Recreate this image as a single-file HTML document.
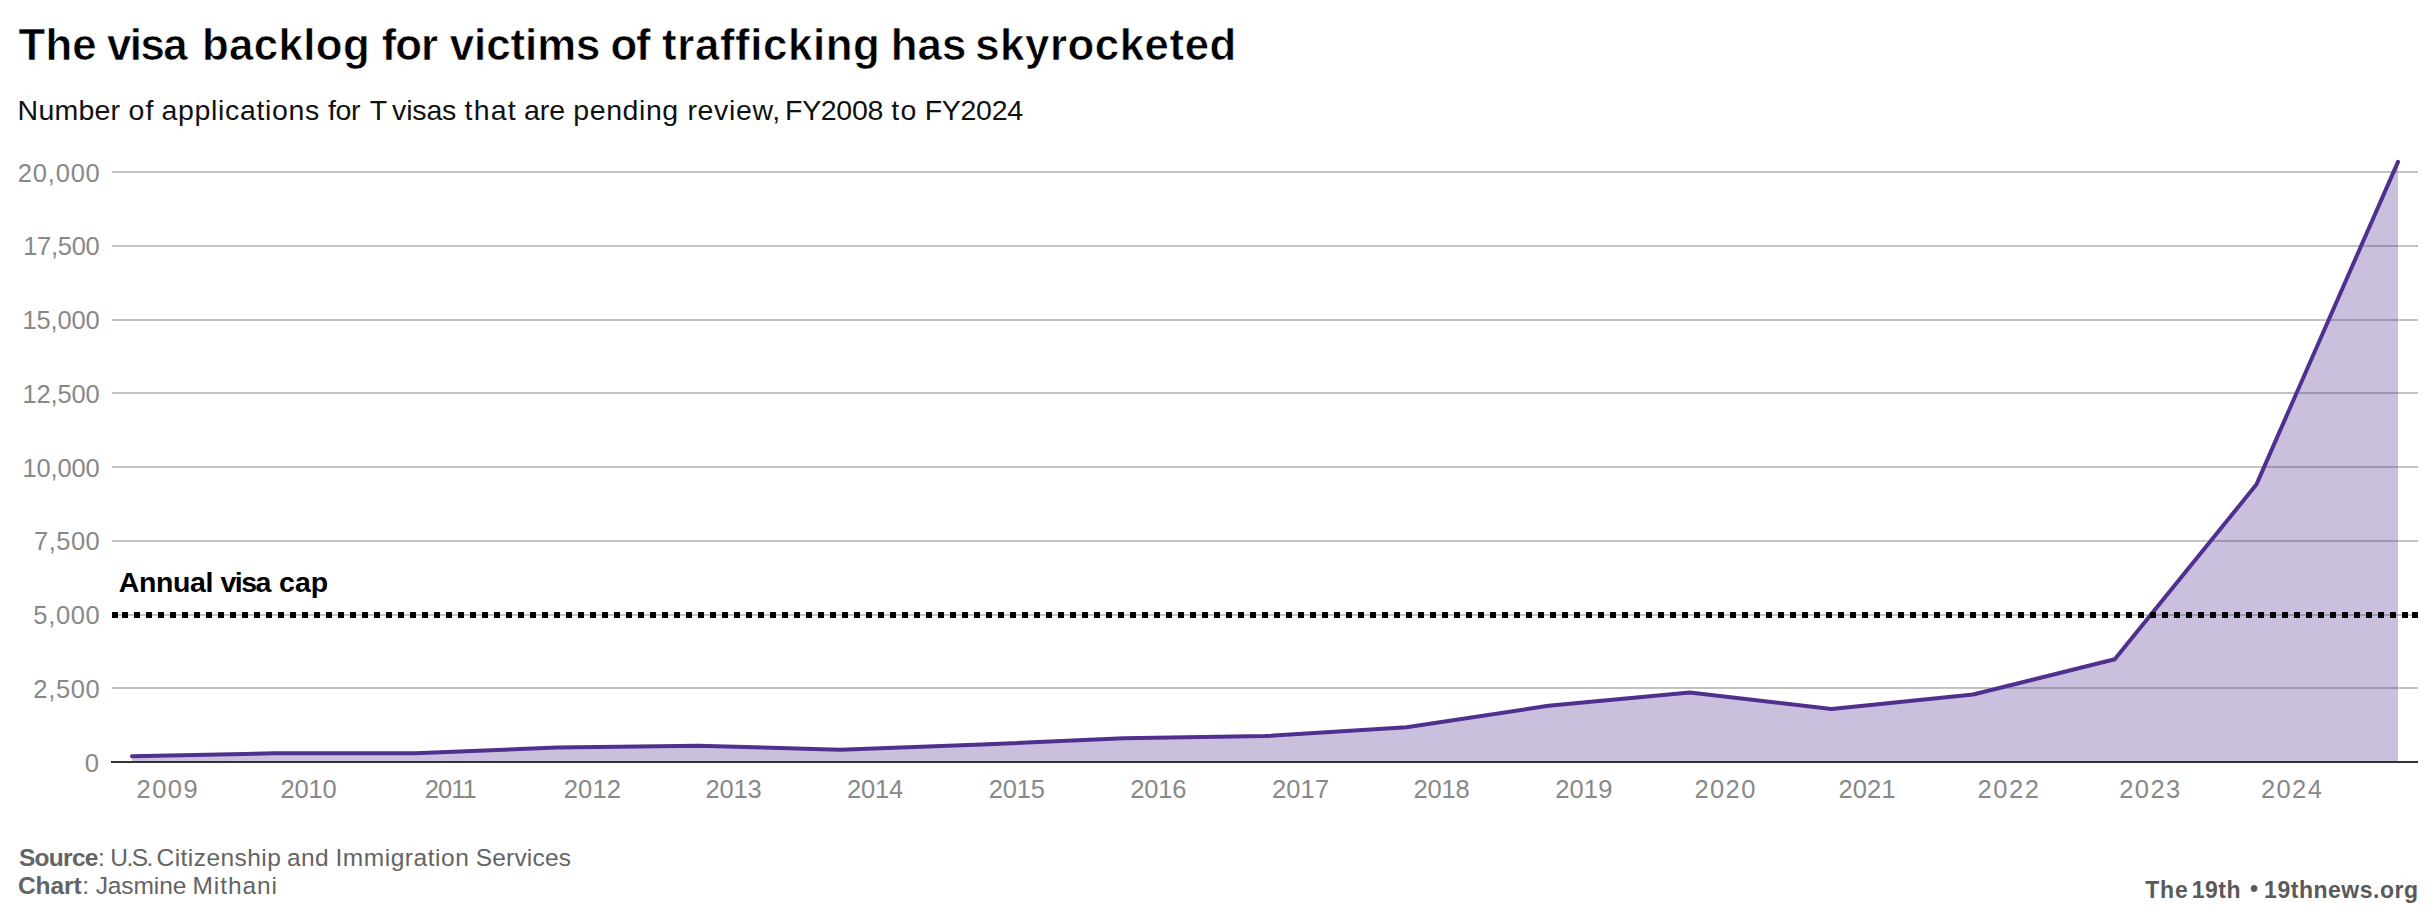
<!DOCTYPE html>
<html lang="en"><head><meta charset="utf-8"><title>The visa backlog for victims of trafficking has skyrocketed</title>
<style>
html,body{margin:0;padding:0;background:#fff;}
body{width:2436px;height:924px;position:relative;overflow:hidden;font-family:"Liberation Sans",Arial,sans-serif;}
.ln{position:absolute;left:0;width:2436px;white-space:nowrap;line-height:1;}
.ln b,.ln span{position:absolute;top:0;white-space:pre;}
.ln b{font-weight:700;}
.ln span{font-weight:400;}
.t1{font-size:43.75px;color:#000;-webkit-text-stroke:0.6px #fff;}
.t2{font-size:28.5px;color:#111;}
.t3{font-size:28.5px;color:#000;}
.t4{font-size:24.5px;color:#646464;}
.t5{font-size:23px;color:#5a5a5a;}
.t6{font-size:25.5px;color:#888888;}
svg{position:absolute;left:0;top:0;}
</style></head><body>
<svg width="2436" height="924" viewBox="0 0 2436 924">
<g fill="#c3c3c3" stroke="none" shape-rendering="crispEdges">
<rect x="112" y="171" width="2306" height="2"/>
<rect x="112" y="245" width="2306" height="2"/>
<rect x="112" y="319" width="2306" height="2"/>
<rect x="112" y="392" width="2306" height="2"/>
<rect x="112" y="466" width="2306" height="2"/>
<rect x="112" y="540" width="2306" height="2"/>
<rect x="112" y="614" width="2306" height="2"/>
<rect x="112" y="687" width="2306" height="2"/>
</g>
<path d="M132.00,756.20 L273.62,753.30 L415.25,753.30 L556.88,747.60 L698.50,745.80 L840.12,749.70 L981.75,744.50 L1123.38,738.20 L1265.00,736.10 L1406.62,727.30 L1548.25,705.80 L1689.88,692.40 L1831.50,708.90 L1973.12,694.50 L2114.75,659.25 L2256.38,484.60 L2398.00,161.90 L2398.00,762 L132.00,762 Z" fill="#50308f" fill-opacity="0.3" stroke="none"/>
<rect x="111" y="761" width="2307" height="2" fill="#333333" shape-rendering="crispEdges"/>
<path d="M132.00,756.20 L273.62,753.30 L415.25,753.30 L556.88,747.60 L698.50,745.80 L840.12,749.70 L981.75,744.50 L1123.38,738.20 L1265.00,736.10 L1406.62,727.30 L1548.25,705.80 L1689.88,692.40 L1831.50,708.90 L1973.12,694.50 L2114.75,659.25 L2256.38,484.60 L2398.00,161.90" fill="none" stroke="#50308f" stroke-width="4" stroke-linejoin="round" stroke-linecap="round"/>
<g fill="#000"><rect x="112" y="612" width="6" height="6"/><rect x="2412" y="612" width="6" height="6"/></g>
<line x1="122" x2="2408" y1="615" y2="615" stroke="#000" stroke-width="6" stroke-dasharray="6 6"/>
</svg>
<div id="title" class="ln t1" style="top:22.9px"><b style="left:18.60px;letter-spacing:0.13px">The</b> <b style="left:106.90px;letter-spacing:-1.50px">visa</b> <b style="left:202.00px;letter-spacing:0.38px">backlog</b> <b style="left:381.70px;letter-spacing:-0.95px">for</b> <b style="left:449.70px;letter-spacing:-0.02px">victims</b> <b style="left:610.40px;letter-spacing:-1.12px">of</b> <b style="left:662.10px;letter-spacing:0.62px">trafficking</b> <b style="left:890.80px;letter-spacing:0.07px">has</b> <b style="left:975.20px;letter-spacing:0.57px">skyrocketed</b></div>
<div id="sub" class="ln t2" style="top:96px"><span style="left:17.60px;letter-spacing:0.23px">Number</span> <span style="left:128.50px;letter-spacing:1.05px">of</span> <span style="left:161.60px;letter-spacing:0.64px">applications</span> <span style="left:328.00px;letter-spacing:-0.33px">for</span> <span style="left:369.70px">T</span> <span style="left:392.10px;letter-spacing:-0.17px">visas</span> <span style="left:464.60px;letter-spacing:1.16px">that</span> <span style="left:524.00px;letter-spacing:-0.02px">are</span> <span style="left:573.30px;letter-spacing:0.57px">pending</span> <span style="left:687.40px;letter-spacing:0.67px">review,</span> <span style="left:785.10px;letter-spacing:-0.33px">FY2008</span> <span style="left:891.30px;letter-spacing:1.38px">to</span> <span style="left:924.70px;letter-spacing:-0.29px">FY2024</span></div>
<div id="cap" class="ln t3" style="top:567.6px"><b style="left:118.70px;letter-spacing:-0.37px">Annual</b> <b style="left:220.40px;letter-spacing:-1.50px">visa</b> <b style="left:279.00px;letter-spacing:0.05px">cap</b></div>
<div id="src1" class="ln t4" style="top:845.6px"><b style="left:19.00px;letter-spacing:-0.73px">Source</b> <span style="left:98.00px">:</span> <span style="left:110.20px;letter-spacing:-1.50px">U.S.</span> <span style="left:156.60px;letter-spacing:0.44px">Citizenship</span> <span style="left:287.10px;letter-spacing:0.27px">and</span> <span style="left:335.40px;letter-spacing:0.55px">Immigration</span> <span style="left:475.70px;letter-spacing:0.19px">Services</span></div>
<div id="src2" class="ln t4" style="top:873.6px"><b style="left:18.00px;letter-spacing:-0.10px">Chart</b> <span style="left:82.20px">:</span> <span style="left:95.70px;letter-spacing:-0.10px">Jasmine</span> <span style="left:192.50px;letter-spacing:0.91px">Mithani</span></div>
<div id="brand" class="ln t5" style="top:878.9px"><b style="left:2145.20px;letter-spacing:0.80px">The</b> <b style="left:2191.70px;letter-spacing:0.55px">19th</b> <b style="left:2250.00px;top:-1px">•</b> <b style="left:2264.10px;letter-spacing:0.52px">19thnews.org</b></div>
<div id="y20000" class="ln t6" style="top:160.54px"><span style="left:17.80px;letter-spacing:0.80px">20,000</span></div>
<div id="y17500" class="ln t6" style="top:234.29px"><span style="left:23.20px;letter-spacing:-0.28px">17,500</span></div>
<div id="y15000" class="ln t6" style="top:308.04px"><span style="left:22.40px;letter-spacing:-0.12px">15,000</span></div>
<div id="y12500" class="ln t6" style="top:381.79px"><span style="left:22.40px;letter-spacing:-0.12px">12,500</span></div>
<div id="y10000" class="ln t6" style="top:455.54px"><span style="left:22.40px;letter-spacing:-0.12px">10,000</span></div>
<div id="y7500" class="ln t6" style="top:529.29px"><span style="left:34.00px;letter-spacing:0.49px">7,500</span></div>
<div id="y5000" class="ln t6" style="top:603.04px"><span style="left:33.30px;letter-spacing:0.67px">5,000</span></div>
<div id="y2500" class="ln t6" style="top:676.79px"><span style="left:33.30px;letter-spacing:0.67px">2,500</span></div>
<div id="y0" class="ln t6" style="top:750.54px"><span style="left:84.70px">0</span></div>
<div id="x2009" class="ln t6" style="top:777.3px"><span style="left:136.50px;letter-spacing:1.50px">2009</span></div>
<div id="x2010" class="ln t6" style="top:777.3px"><span style="left:280.52px;letter-spacing:-0.18px">2010</span></div>
<div id="x2011" class="ln t6" style="top:777.3px"><span style="left:424.70px;letter-spacing:-0.92px">2011</span></div>
<div id="x2012" class="ln t6" style="top:777.3px"><span style="left:563.77px;letter-spacing:0.15px">2012</span></div>
<div id="x2013" class="ln t6" style="top:777.3px"><span style="left:705.40px;letter-spacing:-0.18px">2013</span></div>
<div id="x2014" class="ln t6" style="top:777.3px"><span style="left:847.02px;letter-spacing:-0.18px">2014</span></div>
<div id="x2015" class="ln t6" style="top:777.3px"><span style="left:988.65px;letter-spacing:-0.18px">2015</span></div>
<div id="x2016" class="ln t6" style="top:777.3px"><span style="left:1130.28px;letter-spacing:-0.18px">2016</span></div>
<div id="x2017" class="ln t6" style="top:777.3px"><span style="left:1271.90px;letter-spacing:0.15px">2017</span></div>
<div id="x2018" class="ln t6" style="top:777.3px"><span style="left:1413.53px;letter-spacing:-0.18px">2018</span></div>
<div id="x2019" class="ln t6" style="top:777.3px"><span style="left:1555.15px;letter-spacing:0.15px">2019</span></div>
<div id="x2020" class="ln t6" style="top:777.3px"><span style="left:1694.38px;letter-spacing:1.42px">2020</span></div>
<div id="x2021" class="ln t6" style="top:777.3px"><span style="left:1838.40px;letter-spacing:0.15px">2021</span></div>
<div id="x2022" class="ln t6" style="top:777.3px"><span style="left:1977.62px;letter-spacing:1.50px">2022</span></div>
<div id="x2023" class="ln t6" style="top:777.3px"><span style="left:2119.25px;letter-spacing:1.42px">2023</span></div>
<div id="x2024" class="ln t6" style="top:777.3px"><span style="left:2260.88px;letter-spacing:1.42px">2024</span></div>
</body></html>
